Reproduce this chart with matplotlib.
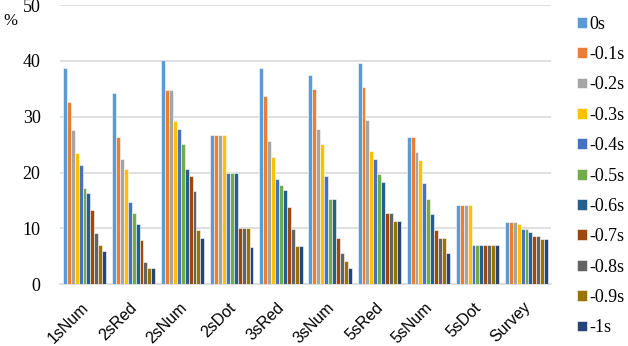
import matplotlib
matplotlib.use("Agg")
import matplotlib.pyplot as plt
import matplotlib.transforms as mtransforms
import numpy as np

categories = ["1sNum", "2sRed", "2sNum", "2sDot", "3sRed", "3sNum", "5sRed", "5sNum", "5sDot", "Survey"]
series = ["0s", "-0.1s", "-0.2s", "-0.3s", "-0.4s", "-0.5s", "-0.6s", "-0.7s", "-0.8s", "-0.9s", "-1s"]

# one list per category, values in series order (0s ... -1s)
v_1sNum = [38.8, 32.6, 27.6, 23.5, 21.4, 17.3, 16.3, 13.3, 9.1, 7.0, 6.0]
v_2sRed = [34.3, 26.4, 22.5, 20.6, 14.7, 12.7, 10.8, 7.9, 3.9, 2.9, 2.9]
v_2sNum = [40.2, 34.8, 34.8, 29.3, 27.8, 25.1, 20.7, 19.4, 16.6, 9.7, 8.2]
v_2sDot = [26.7, 26.7, 26.7, 26.7, 20.0, 20.0, 20.0, 10.0, 10.0, 10.0, 6.7]
v_3sRed = [38.7, 33.8, 25.7, 22.8, 18.8, 17.8, 16.9, 13.9, 9.9, 6.9, 6.9]
v_3sNum = [37.5, 34.9, 27.8, 25.2, 19.4, 15.2, 15.2, 8.2, 5.6, 4.1, 2.8]
v_5sRed = [39.6, 35.3, 29.5, 23.9, 22.5, 19.8, 18.3, 12.7, 12.7, 11.3, 11.3]
v_5sNum = [26.4, 26.4, 23.6, 22.3, 18.1, 15.3, 12.5, 9.7, 8.3, 8.3, 5.6]
v_5sDot = [14.2, 14.2, 14.2, 14.2, 7.0, 7.0, 7.0, 7.0, 7.0, 7.0, 7.0]
v_Survey = [11.1, 11.1, 11.1, 10.7, 9.8, 9.8, 9.4, 8.6, 8.6, 8.1, 8.1]

values = np.array([v_1sNum, v_2sRed, v_2sNum, v_2sDot, v_3sRed, v_3sNum,
                   v_5sRed, v_5sNum, v_5sDot, v_Survey])

colors = ["#5B9BD5", "#ED7D31", "#A5A5A5", "#FFC000", "#4472C4", "#70AD47",
          "#255E91", "#9E480E", "#636363", "#997300", "#264478"]

fig = plt.figure(figsize=(6.28, 3.46), dpi=100)
ax = fig.add_axes([0.0955, 0.179, 0.782, 0.806])

x = np.arange(len(categories))
w = 0.08
for i, name in enumerate(series):
    ax.bar(x + (i - 5) * w, values[:, i], w, color=colors[i], label=name,
           edgecolor="white", linewidth=0.4, zorder=3)

ax.set_xlim(-0.5, 9.5)
ax.set_ylim(0, 50)
ax.set_yticks([0, 10, 20, 30, 40, 50])
ax.yaxis.grid(True, color="#D9D9D9", linewidth=1.2, zorder=0)
for s in ["top", "right", "left"]:
    ax.spines[s].set_visible(False)
ax.spines["bottom"].set_color("#D9D9D9")
ax.spines["bottom"].set_linewidth(1.2)
ax.tick_params(axis="both", length=0)
ax.tick_params(axis="y", pad=14)

for lab in ax.get_yticklabels():
    lab.set_fontfamily("Liberation Serif")
    lab.set_fontsize(13)

ax.set_xticks(x)
ax.set_xticklabels(categories, rotation=45, ha="right", va="center",
                   rotation_mode="anchor", fontsize=11.5, family="Liberation Sans")
off = mtransforms.ScaledTranslation(1 / 72, -11.5 / 72, fig.dpi_scale_trans)
for lab in ax.get_xticklabels():
    lab.set_transform(lab.get_transform() + off)

fig.text(0.005, 0.94, "%", fontsize=12, family="Liberation Serif", va="center")

leg = fig.legend(loc="upper left", bbox_to_anchor=(0.913, 0.965), frameon=False,
                 prop={"family": "Liberation Serif", "size": 13},
                 handlelength=0.55, handleheight=0.55, handletextpad=0.15,
                 labelspacing=0.74, borderpad=0.2, borderaxespad=0)

fig.savefig("out.png", dpi=100)
